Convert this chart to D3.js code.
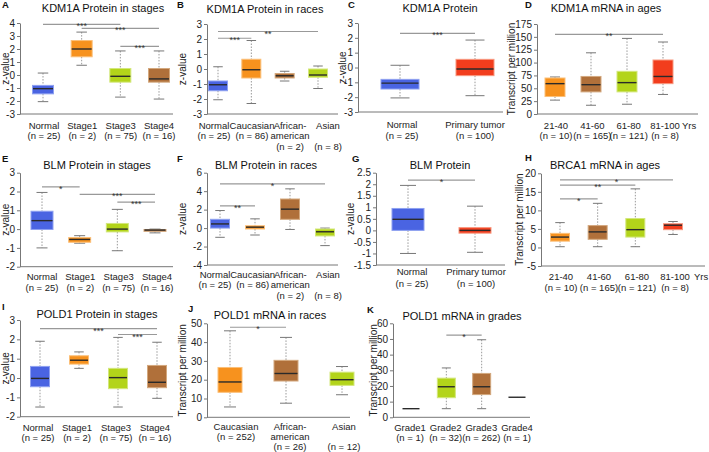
<!DOCTYPE html>
<html><head><meta charset="utf-8">
<script src="https://cdn.jsdelivr.net/npm/d3@7"></script>
<style>
html,body{margin:0;padding:0;background:#fff;}
svg{display:block;font-family:"Liberation Sans",Arial,sans-serif;}
</style></head>
<body><svg id="chart" width="709" height="452"></svg>
<script>
// ---------------- DATA ----------------
// box stats per category: [lower whisker, Q1, median, Q3, upper whisker]
// A: KDM1A Protein in stages
const aCats = ["Normal","Stage1","Stage3","Stage4"];
const aLabels = [["Normal","(n = 25)"],["Stage1","(n = 2)"],["Stage3","(n = 75)"],["Stage4","(n = 16)"]];
const aBoxes = [[-2.05,-1.45,-1.05,-0.8,0.15],[0.75,1.4,2.0,2.65,3.3],[-1.7,-0.55,-0.1,0.5,1.85],[-1.85,-0.55,-0.3,0.5,1.85]];
const aSig = [["Normal","Stage3",3.9,"***"],["Stage1","Stage4",3.58,"***"],["Stage3","Stage4",2.2,"***"]];
const aTicks = [-3,-2,-1,0,1,2,3,4];
// B: KDM1A Protein in races
const bCats = ["Normal","Caucasian","African-american","Asian"];
const bLabels = [["Normal","(n = 25)"],["Caucasian","(n = 86)"],["African-","american","(n = 2)"],["Asian","","(n = 8)"]];
const bBoxes = [[-2.05,-1.45,-1.05,-0.8,0.15],[-2.3,-0.6,-0.05,0.65,1.9],[-0.8,-0.6,-0.45,-0.3,-0.15],[-1.3,-0.55,-0.4,0.0,0.2]];
const bSig = [["Normal","Asian",2.5,"**"],["Normal","Caucasian",2.05,"***"]];
const bTicks = [-3,-2,-1,0,1,2,3];
// C: KDM1A Protein
const cCats = ["Normal","Primary tumor"];
const cLabels = [["Normal","(n = 25)"],["Primary tumor","(n = 100)"]];
const cBoxes = [[-2.05,-1.45,-1.05,-0.8,0.15],[-1.9,-0.55,-0.1,0.55,1.85]];
const cSig = [["Normal","Primary tumor",2.3,"***"]];
const cTicks = [-3,-2,-1,0,1,2,3];
// D: KDM1A mRNA in ages
const dCats = ["21-40","41-60","61-80","81-100"];
const dLabels = [["21-40","(n = 10)"],["41-60","(n = 165)"],["61-80","(n = 121)"],["81-100","(n = 8)"]];
const dBoxes = [[27,34,59,70,72],[17,43,57,73,119],[19,43,61,83,147],[38,59,73,105,140]];
const dSig = [["21-40","81-100",155,"**"]];
const dTicks = [0,25,50,75,100,125,150,175];
const dUnit = "Yrs";
// E: BLM Protein in stages
const eCats = ["Normal","Stage1","Stage3","Stage4"];
const eLabels = [["Normal","(n = 25)"],["Stage1","(n = 2)"],["Stage3","(n = 75)"],["Stage4","(n = 16)"]];
const eBoxes = [[-1.0,-0.02,0.45,0.95,1.95],[-0.75,-0.7,-0.55,-0.45,-0.35],[-1.15,-0.15,0.0,0.3,1.05],[-0.2,-0.12,-0.05,-0.02,0.0]];
const eSig = [["Normal","Stage1",2.25,"*"],["Stage1","Stage4",1.85,"***"],["Stage3","Stage4",1.43,"***"]];
const eTicks = [-2,-1,0,1,2,3];
// F: BLM Protein in races
const fCats = ["Normal","Caucasian","African-american","Asian"];
const fLabels = [["Normal","(n = 25)"],["Caucasian","(n = 86)"],["African-","american","(n = 2)"],["Asian","","(n = 8)"]];
const fBoxes = [[-1.0,0.0,0.45,0.95,1.9],[-0.75,-0.1,0.1,0.25,1.0],[-0.15,0.95,2.05,3.15,4.25],[-1.9,-0.85,-0.4,-0.1,0.0]];
const fSig = [["Normal","Asian",4.8,"*"],["Normal","Caucasian",2.4,"**"]];
const fTicks = [-4,-2,0,2,4,6];
// G: BLM Protein
const gCats = ["Normal","Primary tumor"];
const gLabels = [["Normal","(n = 25)"],["Primary tumor","(n = 100)"]];
const gBoxes = [[-1.0,0.0,0.48,0.95,1.95],[-0.95,-0.12,0.0,0.12,1.05]];
const gSig = [["Normal","Primary tumor",2.18,"*"]];
const gTicks = [-1.5,-1,-0.5,0,0.5,1,1.5,2,2.5];
// H: BRCA1 mRNA in ages
const hCats = ["21-40","41-60","61-80","81-100"];
const hLabels = [["21-40","(n = 10)"],["41-60","(n = 165)"],["61-80","(n = 121)"],["81-100","(n = 8)"]];
const hBoxes = [[0.2,1.7,2.8,3.8,6.7],[0.2,2.2,4.2,5.9,11.9],[0.2,2.8,4.8,7.8,15.8],[3.5,4.8,6.0,6.4,7.0]];
const hSig = [["21-40","81-100",18.2,"*"],["21-40","61-80",16.8,"**"],["21-40","41-60",13.1,"*"]];
const hTicks = [-5,0,5,10,15,20];
const hUnit = "Yrs";
// I: POLD1 Protein in stages
const iCats = ["Normal","Stage1","Stage3","Stage4"];
const iLabels = [["Normal","(n = 25)"],["Stage1","(n = 2)"],["Stage3","(n = 75)"],["Stage4","(n = 16)"]];
const iBoxes = [[-1.5,-0.45,-0.02,0.6,1.9],[0.5,0.72,0.92,1.15,1.35],[-1.5,-0.55,0.02,0.5,2.1],[-1.05,-0.5,-0.22,0.65,1.85]];
const iSig = [["Normal","Stage4",2.55,"***"],["Stage3","Stage4",2.25,"***"]];
const iTicks = [-2,-1,0,1,2,3];
// J: POLD1 mRNA in races
const jCats = ["Caucasian","African-american","Asian"];
const jLabels = [["Caucasian","(n = 252)"],["African-","american","(n = 26)"],["Asian","","(n = 12)"]];
const jBoxes = [[5.5,13.3,18.8,26.5,46],[7.5,19.3,23.3,30.3,42.5],[12,17,20,24,27]];
const jSig = [["Caucasian","African-american",47.9,"*"]];
const jTicks = [0,10,20,30,40,50];
// K: POLD1 mRNA in grades
const kCats = ["Grade1","Grade2","Grade3","Grade4"];
const kLabels = [["Grade1","(n = 1)"],["Grade2","(n = 32)"],["Grade3","(n = 262)"],["Grade4","(n = 1)"]];
const kBoxes = [[5.5,5.5,5.5,5.5,5.5],[5.5,12.5,19.5,25,31.5],[5.5,14.5,19.5,28,49.5],[12.8,12.8,12.8,12.8,12.8]];
const kSig = [["Grade2","Grade3",52.5,"*"]];
const kTicks = [0,10,20,30,40,50,60];

// ---------------- STYLE / LAYOUT ----------------
const COL = {
  blue:  {fill:"#4a64e2", stroke:"#8ea0f0"},
  orange:{fill:"#f7921e", stroke:"#fbbf78"},
  lime:  {fill:"#b3d41a", stroke:"#d3e77c"},
  brown: {fill:"#b0703a", stroke:"#d3a87e"},
  red:   {fill:"#f23d1d", stroke:"#f8977f"}
};
const ZL = "z-value", TPM = "Transcript per million";
const LF = 9.5; // category label font size

const panels = [
  {letter:"A",lx:2,ly:8,title:"KDM1A Protein in stages",tx:103,ty:12,x0:20,x1:173,c:[43,159],l:[44,159],yTop:23,yBot:114,ylab:ZL,ylx:5,bw:21,labY:[129,139,150],cols:["blue","orange","lime","brown"],cats:aCats,labels:aLabels,boxes:aBoxes,sig:aSig,ticks:aTicks},
  {letter:"B",lx:177,ly:8,title:"KDM1A Protein in races",tx:265,ty:13,x0:207,x1:338,c:[218,318],l:[214,328],yTop:24,yBot:114,ylab:ZL,ylx:182,bw:19,labY:[129,139,150],cols:["blue","orange","brown","lime"],cats:bCats,labels:bLabels,boxes:bBoxes,sig:bSig,ticks:bTicks},
  {letter:"C",lx:348,ly:8,title:"KDM1A Protein",tx:440,ty:12,x0:358,x1:503,c:[400,475],l:[402,475],yTop:23,yBot:112,ylab:ZL,ylx:342,bw:38,labY:[128,139,150],cols:["blue","red"],cats:cCats,labels:cLabels,boxes:cBoxes,sig:cSig,ticks:cTicks},
  {letter:"D",lx:525,ly:8,title:"KDM1A mRNA in ages",tx:606,ty:12,x0:537,x1:698,c:[555,663],l:[556,665],yTop:24,yBot:114,ylab:TPM,ylx:511,bw:20,labY:[129,139,150],cols:["orange","brown","lime","red"],cats:dCats,labels:dLabels,boxes:dBoxes,sig:dSig,ticks:dTicks,unit:dUnit,ux:682},
  {letter:"E",lx:2,ly:162,title:"BLM Protein in stages",tx:97,ty:169,x0:20,x1:173,c:[42,155],l:[42,157],yTop:172.7,yBot:266.7,ylab:ZL,ylx:5,bw:22,labY:[280,291,302],cols:["blue","orange","lime","brown"],cats:eCats,labels:eLabels,boxes:eBoxes,sig:eSig,ticks:eTicks},
  {letter:"F",lx:177,ly:162,title:"BLM Protein in races",tx:266,ty:169,x0:207,x1:338,c:[220,325],l:[215,328],yTop:172.7,yBot:265,ylab:ZL,ylx:182,bw:19,labY:[278,288,299],cols:["blue","orange","brown","lime"],cats:fCats,labels:fLabels,boxes:fBoxes,sig:fSig,ticks:fTicks},
  {letter:"G",lx:352,ly:162,title:"BLM Protein",tx:440,ty:169,x0:376,x1:505,c:[408,475],l:[412,476],yTop:172.7,yBot:265,ylab:ZL,ylx:350,bw:32,labY:[275,287,298],cols:["blue","red"],cats:gCats,labels:gLabels,boxes:gBoxes,sig:gSig,ticks:gTicks},
  {letter:"H",lx:525,ly:161,title:"BRCA1 mRNA in ages",tx:605,ty:169,x0:541,x1:705,c:[560,673],l:[561,675],yTop:173.3,yBot:266,ylab:TPM,ylx:519,bw:19,labY:[280,291,302],cols:["orange","brown","lime","red"],cats:hCats,labels:hLabels,boxes:hBoxes,sig:hSig,ticks:hTicks,unit:hUnit,ux:694},
  {letter:"I",lx:2,ly:310,title:"POLD1 Protein in stages",tx:97,ty:318,x0:20,x1:173,c:[40,157],l:[38,155],yTop:320,yBot:416.7,ylab:ZL,ylx:5,bw:19,labY:[431,441,452],cols:["blue","orange","lime","brown"],cats:iCats,labels:iLabels,boxes:iBoxes,sig:iSig,ticks:iTicks},
  {letter:"J",lx:188,ly:312,title:"POLD1 mRNA in races",tx:270,ty:319,x0:207,x1:350,c:[230,342],l:[236,344],yTop:323.3,yBot:417.3,ylab:TPM,ylx:182,bw:24,labY:[430,440,450],cols:["orange","brown","lime"],cats:jCats,labels:jLabels,boxes:jBoxes,sig:jSig,ticks:jTicks},
  {letter:"K",lx:367,ly:313,title:"POLD1 mRNA in grades",tx:462,ty:320,x0:393,x1:530,c:[411,517],l:[410,517],yTop:323.3,yBot:417.3,ylab:TPM,ylx:373.5,bw:18,labY:[431,441,452],cols:["lime","lime","brown","lime"],cats:kCats,labels:kLabels,boxes:kBoxes,sig:kSig,ticks:kTicks}
];

const svg = d3.select("#chart");
svg.append("rect").attr("width",709).attr("height",452).attr("fill","#fff");

function drawPanel(p){
  const g = svg.append("g");
  const x = d3.scalePoint().domain(p.cats).range(p.c);
  const xl = d3.scalePoint().domain(p.cats).range(p.l);
  const t = p.ticks;
  const y = d3.scaleLinear().domain([t[0], t[t.length-1]]).range([p.yBot, p.yTop]);

  // letter + title
  g.append("text").attr("x",p.lx).attr("y",p.ly).attr("font-size",9.5).attr("font-weight","bold").attr("fill","#111").text(p.letter);
  g.append("text").attr("x",p.tx).attr("y",p.ty).attr("text-anchor","middle").attr("font-size",11).attr("fill","#111").text(p.title);

  // y axis
  const ax = g.append("g").attr("transform",`translate(${p.x0},0)`)
    .call(d3.axisLeft(y).tickValues(t).tickSize(3).tickSizeOuter(0).tickPadding(2).tickFormat(d => String(d)));
  ax.select(".domain").attr("stroke","#777");
  ax.selectAll(".tick line").attr("stroke","#777");
  ax.selectAll(".tick text").attr("font-size",10).attr("fill","#222").attr("font-family","Liberation Sans, Arial, sans-serif");
  // x axis line
  g.append("line").attr("x1",p.x0).attr("x2",p.x1).attr("y1",y(t[0])).attr("y2",y(t[0])).attr("stroke","#777");
  // y label
  g.append("text").attr("transform",`translate(${p.ylx},${(p.yTop+p.yBot)/2}) rotate(-90)`)
    .attr("dy","0.35em").attr("text-anchor","middle").attr("font-size",10).attr("fill","#222").text(p.ylab);

  // boxes
  p.cats.forEach((c,i) => {
    const [lo,q1,md,q3,hi] = p.boxes[i];
    const cx = x(c), w = p.bw, col = COL[p.cols[i]];
    const bg = g.append("g");
    bg.append("line").attr("x1",cx).attr("x2",cx).attr("y1",y(hi)).attr("y2",y(q3))
      .attr("stroke","#999").attr("stroke-dasharray","1.5,1.5");
    bg.append("line").attr("x1",cx).attr("x2",cx).attr("y1",y(q1)).attr("y2",y(lo))
      .attr("stroke","#999").attr("stroke-dasharray","1.5,1.5");
    if (hi !== lo) {
      bg.append("line").attr("x1",cx-w*0.25).attr("x2",cx+w*0.25).attr("y1",y(hi)).attr("y2",y(hi)).attr("stroke","#777");
      bg.append("line").attr("x1",cx-w*0.25).attr("x2",cx+w*0.25).attr("y1",y(lo)).attr("y2",y(lo)).attr("stroke","#777");
    }
    if (q3 !== q1) {
      bg.append("rect").attr("x",cx-w/2).attr("y",y(q3)).attr("width",w).attr("height",y(q1)-y(q3))
        .attr("fill",col.fill).attr("stroke",col.stroke).attr("stroke-width",1);
    }
    bg.append("line").attr("x1",cx-w/2+0.5).attr("x2",cx+w/2-0.5).attr("y1",y(md)).attr("y2",y(md))
      .attr("stroke","#2a2a2a").attr("stroke-width",1.4);
  });

  // category labels
  p.cats.forEach((c,i) => {
    p.labels[i].forEach((s,k) => {
      if (!s) return;
      g.append("text").attr("x",xl(c)).attr("y",p.labY[k]).attr("text-anchor","middle")
        .attr("font-size",LF).attr("fill","#222").text(s);
    });
  });
  if (p.unit) {
    g.append("text").attr("x",p.ux).attr("y",p.labY[0]).attr("font-size",LF).attr("fill","#222").text(p.unit);
  }

  // significance
  p.sig.forEach(([a,b,v,s]) => {
    const ly = y(v);
    g.append("line").attr("x1",x(a)).attr("x2",x(b)).attr("y1",ly).attr("y2",ly).attr("stroke","#999").attr("stroke-width",1.2);
    g.append("text").attr("x",(x(a)+x(b))/2).attr("y",ly+5).attr("text-anchor","middle")
      .attr("font-size",9).attr("fill","#333").text(s);
  });
}
panels.forEach(drawPanel);
</script>
</body></html>
